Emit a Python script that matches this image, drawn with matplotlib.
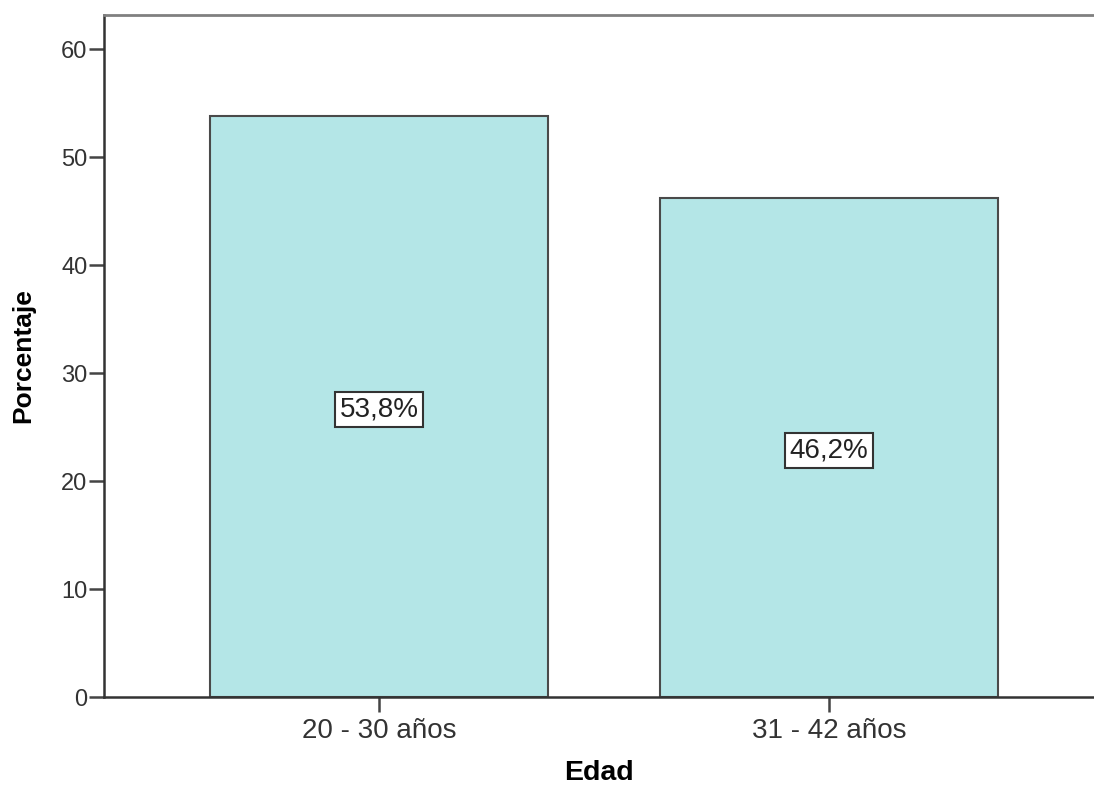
import matplotlib.pyplot as plt

plt.rcParams['font.family'] = ['Liberation Sans', 'DejaVu Sans']

categorias = ["20 - 30 años", "31 - 42 años"]
porcentajes = [53.8, 46.2]
etiquetas = ["53,8%", "46,2%"]

fig = plt.figure(figsize=(10.94, 7.91), dpi=100)
ax = fig.add_axes([0.0951, 0.1188, 0.9049, 0.8622])

x = range(len(categorias))
ax.bar(x, porcentajes, width=0.751, color="#B4E6E7", edgecolor="#4a4a4a", linewidth=1.5, zorder=2)

for i, (v, t) in enumerate(zip(porcentajes, etiquetas)):
    ax.text(i, v / 2, t, ha="center", va="center_baseline", fontsize=20, color="#222222",
            bbox=dict(boxstyle="square,pad=0.15", facecolor="white", edgecolor="#333333", linewidth=1.5),
            zorder=3)

ax.set_xlim(-0.611, 1.589)
ax.set_ylim(0, 63.15)
ax.set_yticks([0, 10, 20, 30, 40, 50, 60])
ax.set_xticks(list(x))
ax.set_xticklabels(categorias)

ax.spines["right"].set_visible(False)
ax.spines["top"].set_color("#808080")
ax.spines["top"].set_linewidth(2)
for s in ["left", "bottom"]:
    ax.spines[s].set_color("#333333")
    ax.spines[s].set_linewidth(1.8)

ax.tick_params(axis="both", direction="out", length=11, width=1.8, color="#444444",
               labelcolor="#333333")
ax.tick_params(axis="y", labelsize=17, pad=1)
ax.tick_params(axis="x", labelsize=20, pad=4)

ax.set_ylabel("Porcentaje", fontsize=19, fontweight="bold", va="center")
ax.yaxis.set_label_coords(-0.0818, 0.5)
ax.set_xlabel("Edad", fontsize=20.5, fontweight="bold", va="center")
ax.xaxis.set_label_coords(0.5, -0.1114)

plt.savefig("out.png", dpi=100)
plt.close()
